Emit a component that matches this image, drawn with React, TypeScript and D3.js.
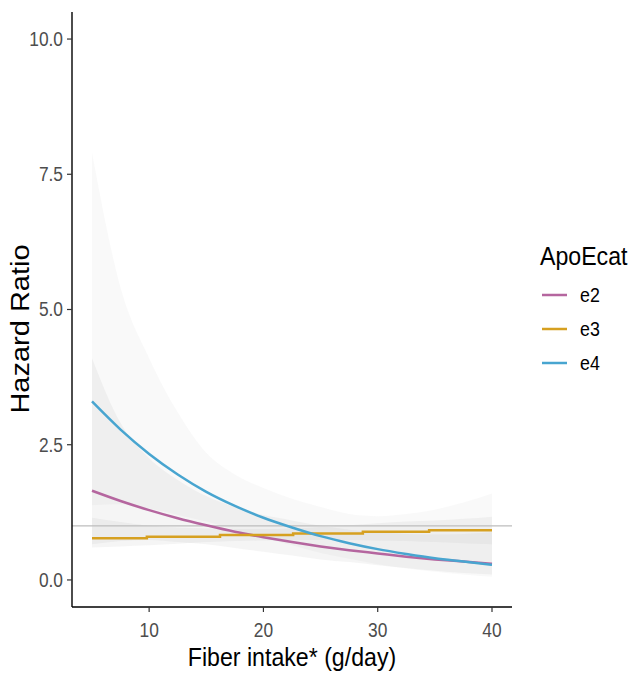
import React from "react";
import * as d3 from "d3";

// ---- data ----
const fiberGrid = [5, 7.5, 10, 12.5, 15, 17.5, 20, 22.5, 25, 27.5, 30, 32.5, 35, 37.5, 40];

const e2Est = [1.65, 1.46, 1.29, 1.14, 1.01, 0.89, 0.79, 0.70, 0.62, 0.55, 0.49, 0.43, 0.38, 0.34, 0.30];
const e2Upper = [4.1, 2.9, 2.25, 1.85, 1.55, 1.35, 1.2, 1.1, 1.0, 0.93, 0.88, 0.85, 0.84, 0.85, 0.88];
const e2Lower = [0.66, 0.72, 0.74, 0.70, 0.66, 0.59, 0.52, 0.45, 0.38, 0.33, 0.27, 0.22, 0.17, 0.13, 0.10];

const e3StepX = [5, 9.8, 16.2, 22.6, 28.7, 34.5, 40];
const e3StepY = [0.77, 0.80, 0.83, 0.86, 0.89, 0.92, 0.92];
const e3Upper = [1.15, 1.07, 1.0, 0.97, 0.95, 0.94, 0.94, 0.95, 0.98, 1.01, 1.05, 1.08, 1.1, 1.13, 1.17];
const e3Lower = [0.60, 0.62, 0.64, 0.67, 0.70, 0.72, 0.73, 0.74, 0.74, 0.74, 0.73, 0.72, 0.70, 0.68, 0.66];

const e4Est = [3.3, 2.78, 2.33, 1.95, 1.63, 1.37, 1.15, 0.97, 0.81, 0.68, 0.57, 0.48, 0.40, 0.34, 0.28];
const e4Upper = [7.9, 5.4, 4.1, 3.1, 2.35, 1.95, 1.7, 1.5, 1.35, 1.22, 1.18, 1.22, 1.3, 1.43, 1.6];
const e4Lower = [1.38, 1.4, 1.32, 1.2, 1.08, 0.93, 0.78, 0.64, 0.5, 0.39, 0.29, 0.21, 0.15, 0.10, 0.06];

const xTicks = [10, 20, 30, 40];
const yTicks = [0, 2.5, 5, 7.5, 10];
const groups = ["e2", "e3", "e4"];
const groupColors = ["#b5669f", "#d6a020", "#48a5d0"];
const bandOpacity = [0.1, 0.1, 0.06];

const W = 633;
const H = 677;
const FONT = "'Liberation Sans', Arial, sans-serif";
const SX = 0.89; // horizontal text compression seen in the reference

export default function App() {
  const x = d3.scaleLinear().domain([3.25, 41.75]).range([72, 512]);
  const y = d3.scaleLinear().domain([-0.5, 10.5]).range([607, 12]);

  const band = (lo: number[], hi: number[]) =>
    d3
      .area<number>()
      .x((_, i) => x(fiberGrid[i]))
      .y0((_, i) => y(lo[i]))
      .y1((_, i) => y(hi[i]))
      .curve(d3.curveMonotoneX)(fiberGrid) || "";

  const smooth = (vals: number[]) =>
    d3
      .line<number>()
      .x((_, i) => x(fiberGrid[i]))
      .y((v) => y(v))
      .curve(d3.curveMonotoneX)(vals) || "";

  const step =
    d3
      .line<number>()
      .x((_, i) => x(e3StepX[i]))
      .y((v) => y(v))
      .curve(d3.curveStepAfter)(e3StepY) || "";

  const bands = [
    band(e2Lower, e2Upper),
    band(e3Lower, e3Upper),
    band(e4Lower, e4Upper),
  ];
  const lines = [smooth(e2Est), step, smooth(e4Est)];

  const x0 = x.range()[0];
  const x1 = x.range()[1];
  const yb = y.range()[0];
  const yt = y.range()[1];

  return (
    <svg
      width={W}
      height={H}
      style={{ position: "absolute", left: 0, top: 0, background: "#fff" }}
      fontFamily={FONT}
    >
      <rect x={0} y={0} width={W} height={H} fill="#fff" />
      {bands.map((d, i) => (
        <path key={"b" + i} d={d} fill="#999999" fillOpacity={bandOpacity[i]} stroke="none" />
      ))}
      <line x1={x0} x2={x1} y1={y(1)} y2={y(1)} stroke="#bdbdbd" strokeWidth={1.1} />
      {lines.map((d, i) => (
        <path key={"l" + i} d={d} fill="none" stroke={groupColors[i]} strokeWidth={2.5} />
      ))}

      {/* axes */}
      <line x1={x0} x2={x0} y1={yt} y2={yb} stroke="#000" strokeWidth={1.4} />
      <line x1={x0} x2={x1} y1={yb} y2={yb} stroke="#000" strokeWidth={1.4} />
      {yTicks.map((t) => (
        <g key={"yt" + t}>
          <line x1={x0 - 5} x2={x0} y1={y(t)} y2={y(t)} stroke="#333" strokeWidth={1.2} />
          <text
            transform={`translate(${x0 - 9},${y(t)}) scale(${SX},1)`}
            textAnchor="end"
            dy="0.35em"
            fontSize={19.5}
            fill="#4d4d4d"
          >
            {t.toFixed(1)}
          </text>
        </g>
      ))}
      {xTicks.map((t) => (
        <g key={"xt" + t}>
          <line x1={x(t)} x2={x(t)} y1={yb} y2={yb + 5} stroke="#333" strokeWidth={1.2} />
          <text
            transform={`translate(${x(t)},${637}) scale(${SX},1)`}
            textAnchor="middle"
            fontSize={19.5}
            fill="#4d4d4d"
          >
            {t}
          </text>
        </g>
      ))}
      <text
        transform={`translate(${(x0 + x1) / 2},666) scale(${SX},1)`}
        textAnchor="middle"
        fontSize={26}
        fill="#000"
      >
        Fiber intake* (g/day)
      </text>
      <text
        transform={`translate(29,329) rotate(-90) scale(1,${SX})`}
        textAnchor="middle"
        fontSize={29}
        fill="#000"
      >
        Hazard Ratio
      </text>

      {/* legend */}
      <text transform={`translate(540,265) scale(${SX},1)`} fontSize={26} fill="#000">
        ApoEcat
      </text>
      {groups.map((g, i) => (
        <g key={"lg" + g}>
          <line
            x1={542}
            x2={567}
            y1={295 + i * 34}
            y2={295 + i * 34}
            stroke={groupColors[i]}
            strokeWidth={2.5}
          />
          <text
            transform={`translate(580,${295 + i * 34}) scale(${SX},1)`}
            dy="0.35em"
            fontSize={20}
            fill="#000"
          >
            {g}
          </text>
        </g>
      ))}
    </svg>
  );
}
